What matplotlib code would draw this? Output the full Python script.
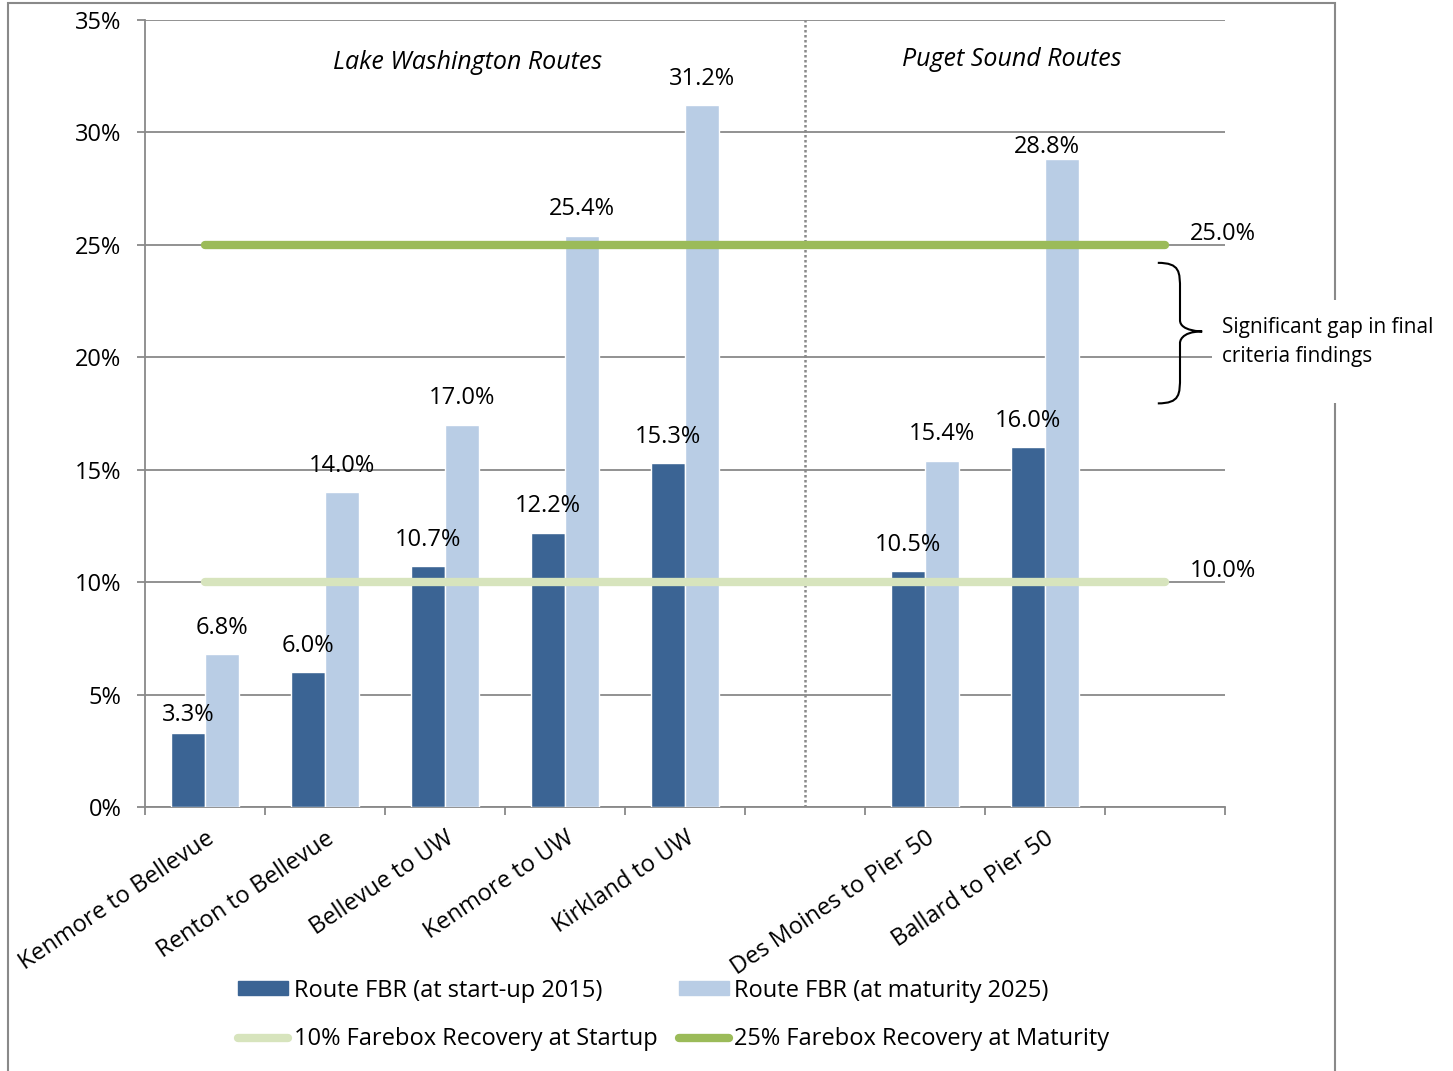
import matplotlib
matplotlib.use("Agg")
import matplotlib.pyplot as plt
import numpy as np
from matplotlib.path import Path
from matplotlib.patches import PathPatch, Rectangle, Patch
from matplotlib.lines import Line2D

plt.rcParams["font.family"] = ["Open Sans", "DejaVu Sans"]

# data
routes = ["Kenmore to Bellevue", "Renton to Bellevue", "Bellevue to UW",
          "Kenmore to UW", "Kirkland to UW", "",
          "Des Moines to Pier 50", "Ballard to Pier 50", ""]
fbr_2015 = [3.3, 6.0, 10.7, 12.2, 15.3, None, 10.5, 16.0, None]
fbr_2025 = [6.8, 14.0, 17.0, 25.4, 31.2, None, 15.4, 28.8, None]
target_startup = [10.0] * 9
target_maturity = [25.0] * 9

DARK = "#3b6494"
LIGHT = "#b9cde5"
GREEN = "#9bbb59"
LGREEN = "#d7e4bd"
GRID = "#898989"
FS = 17

fig = plt.figure(figsize=(14.53, 10.71), dpi=100)
ax = fig.add_axes([145 / 1453, 1 - 807 / 1071, (1225 - 145) / 1453, (807 - 20) / 1071])

x = np.arange(len(routes))
w = 0.283

for i in range(len(routes)):
    if fbr_2015[i] is not None:
        ax.bar(x[i] - w / 2, fbr_2015[i], w, color=DARK, edgecolor="white", linewidth=1, zorder=3)
    if fbr_2025[i] is not None:
        ax.bar(x[i] + w / 2, fbr_2025[i], w, color=LIGHT, edgecolor="white", linewidth=1, zorder=3)

# value labels, a couple nudged like the original
offs_dark = {0: (0, 13)}
offs_light = {7: (-11, 9)}
for i in range(len(routes)):
    if fbr_2015[i] is not None:
        dx, dy = offs_dark.get(i, (0, 19))
        ax.annotate(f"{fbr_2015[i]:.1f}%", (x[i] - w / 2, fbr_2015[i]), xytext=(dx, dy),
                    textcoords="offset points", ha="center", va="center", fontsize=FS, zorder=6)
    if fbr_2025[i] is not None:
        dx, dy = offs_light.get(i, (0, 19))
        ax.annotate(f"{fbr_2025[i]:.1f}%", (x[i] + w / 2, fbr_2025[i]), xytext=(dx, dy),
                    textcoords="offset points", ha="center", va="center", fontsize=FS, zorder=6)

# target lines
ax.plot(x, target_startup, color=LGREEN, lw=6, solid_capstyle="round", zorder=4)
ax.plot(x, target_maturity, color=GREEN, lw=6, solid_capstyle="round", zorder=4)
ax.annotate(f"{target_startup[-1]:.1f}%", (x[-1], target_startup[-1]), xytext=(42, 8),
            textcoords="offset points", ha="center", va="center", fontsize=FS)
ax.annotate(f"{target_maturity[-1]:.1f}%", (x[-1], target_maturity[-1]), xytext=(42, 8),
            textcoords="offset points", ha="center", va="center", fontsize=FS)

# divider between the two groups
ax.axvline(5, color=GRID, ls=(0, (1, 1.0)), lw=1.8, zorder=2)

ax.text(2.19, 33.1, "Lake Washington Routes", style="italic", ha="center", va="center", fontsize=FS + 1)
ax.text(6.725, 33.25, "Puget Sound Routes", style="italic", ha="center", va="center", fontsize=FS + 1)

# axes styling
ax.set_xlim(-0.5, len(routes) - 0.5)
ax.set_ylim(0, 35)
ax.set_yticks(np.arange(0, 36, 5))
ax.set_yticklabels([f"{v}%" for v in range(0, 36, 5)], fontsize=FS)
ax.yaxis.grid(True, color=GRID, lw=1.3, zorder=0)
ax.set_axisbelow(True)
ax.tick_params(axis="y", length=6, width=1.3, color=GRID, pad=11)

ax.set_xticks(np.arange(-0.5, len(routes), 1.0))
ax.set_xticklabels([])
ax.set_xticks(x, minor=True)
ax.set_xticklabels(routes, minor=True, rotation=34, ha="right", rotation_mode="anchor", fontsize=FS)
ax.tick_params(axis="x", which="major", length=6, width=1.3, color=GRID)
ax.tick_params(axis="x", which="minor", length=0, pad=14)

for s in ["top", "right"]:
    ax.spines[s].set_visible(False)
for s in ["left", "bottom"]:
    ax.spines[s].set_color(GRID)
    ax.spines[s].set_linewidth(1.3)

# brace for the gap note
bx0, bx1, bx2 = 7.94, 8.125, 8.31
yt, ym, yb = 24.2, 21.15, 17.95
verts = [(bx0, yt), (bx1, yt), (bx1, yt - 0.4), (bx1, yt - 1.2),
         (bx1, ym + 0.5), (bx1, ym + 0.5), (bx1, ym + 0.5),
         (bx1, ym), (bx2, ym), (bx2, ym),
         (bx1, ym), (bx1, ym - 0.5), (bx1, ym - 0.5),
         (bx1, yb + 1.2), (bx1, yb + 0.4), (bx1, yb), (bx0, yb)]
codes = [Path.MOVETO, Path.CURVE4, Path.CURVE4, Path.CURVE4,
         Path.LINETO, Path.LINETO, Path.LINETO,
         Path.CURVE4, Path.CURVE4, Path.CURVE4,
         Path.CURVE4, Path.CURVE4, Path.CURVE4,
         Path.LINETO, Path.CURVE4, Path.CURVE4, Path.CURVE4]
ax.add_patch(PathPatch(Path(verts, codes), fill=False, lw=1.5, color="black", clip_on=False, zorder=5))

# outer chart frame, with the note box sitting over it
fig.add_artist(Rectangle((8 / 1453, -0.05), (1335 - 8) / 1453, 1.05 - 3 / 1071,
                         transform=fig.transFigure, fill=False, edgecolor=GRID, lw=1.5, zorder=1))
fig.add_artist(Rectangle((1212 / 1453, 1 - 403 / 1071), 235 / 1453, 103 / 1071,
                         transform=fig.transFigure, facecolor="white", edgecolor="none", zorder=2))
fig.text(1222 / 1453, 1 - 342 / 1071, "Significant gap in final\ncriteria findings",
         ha="left", va="center", fontsize=FS * 0.88, linespacing=1.55, zorder=3)

handles = [Patch(color=DARK), Line2D([], [], color=LGREEN, lw=6, solid_capstyle="round"),
           Patch(color=LIGHT), Line2D([], [], color=GREEN, lw=6, solid_capstyle="round")]
labels = ["Route FBR (at start-up 2015)", "10% Farebox Recovery at Startup",
          "Route FBR (at maturity 2025)", "25% Farebox Recovery at Maturity"]
fig.legend(handles, labels, ncol=2, loc="center", bbox_to_anchor=(674 / 1453, 1 - 1015 / 1071),
           frameon=False, fontsize=FS, handlelength=2.1, handleheight=0.5, handletextpad=0.25,
           columnspacing=0.9, labelspacing=1.05)

fig.savefig("out.png", dpi=100)
